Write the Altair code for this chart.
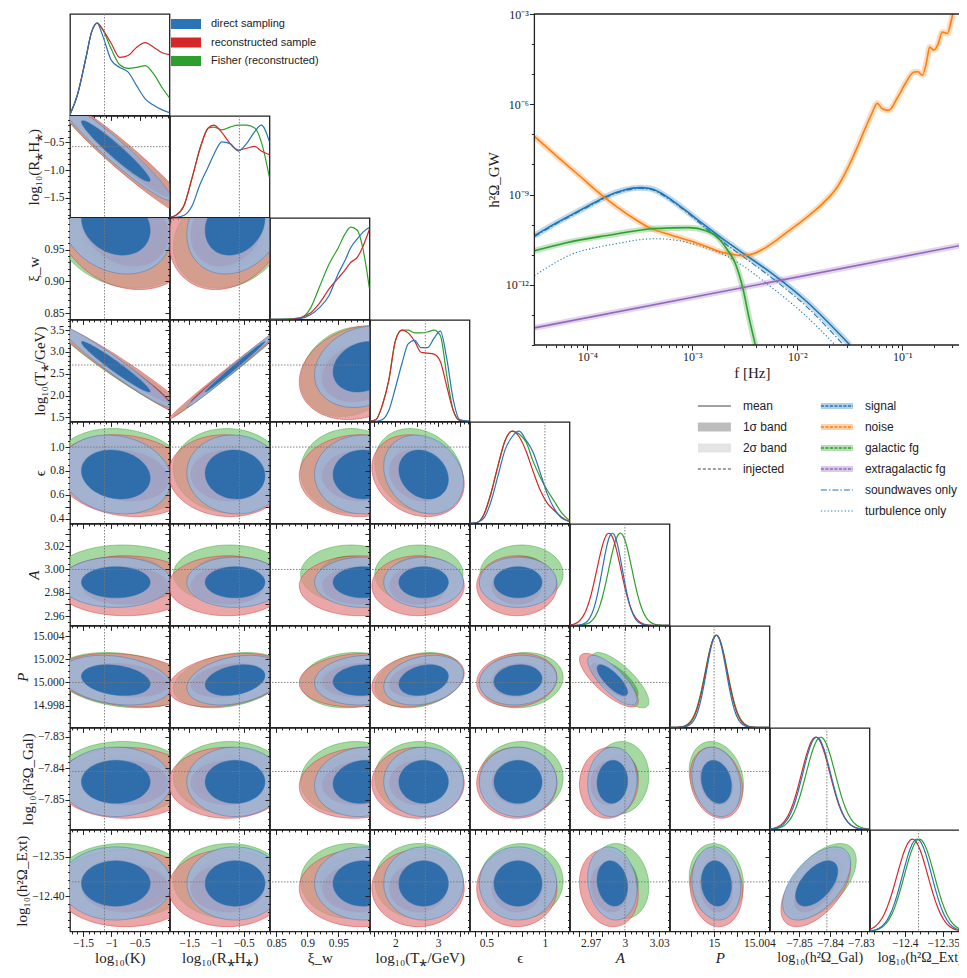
import numpy as np
import pandas as pd
import altair as alt

# ---------------- corner plot: parameters ----------------
AXIS_TITLES = ["log₁₀(K)", "log₁₀(R⁎H⁎)", "ξ_w", "log₁₀(T⁎/GeV)", "ϵ", "A", "P",
               "log₁₀(h²Ω_Gal)", "log₁₀(h²Ω_Ext)"]
DOMAIN_LO = [-1.73, -1.85, 0.84, 1.41, 0.36, 2.952, 14.9961, -7.8594, -12.445]
DOMAIN_HI = [0.03, -0.03, 1.0, 3.73, 1.21, 3.039, 15.0049, -7.8272, -12.316]
INJECTED = [-1.12, -0.58, None, 2.7, 1.0, 3.0, 15.0, -7.841, -12.382]
X_TICK_LABELS = [[-1.5, -1, -0.5], [-1.5, -1, -0.5], [0.85, 0.9, 0.95], [2, 3], [0.5, 1],
                 [2.97, 3, 3.03], [15, 15.004], [-7.85, -7.84, -7.83], [-12.4, -12.35]]
Y_TICK_LABELS = [[], [-1.5, -1, -0.5], [0.85, 0.9, 0.95], [1.5, 2, 2.5, 3, 3.5],
                 [0.4, 0.6, 0.8, 1.0], [2.96, 2.98, 3.0, 3.02], [14.998, 15.0, 15.002, 15.004],
                 [-7.85, -7.84, -7.83], [-12.4, -12.35]]
Y_LABEL_FORMAT = [".1f", ".1f", ".2f", ".1f", ".1f", ".2f", ".3f", ".2f", ".2f"]
MINOR_STEP = [0.1, 0.1, 0.01, 0.1, 0.05, 0.005, 0.0005, 0.002, 0.01]

# summary of each sample (centre, width) per parameter
MEAN_BLUE = [-0.92, -0.66, 0.99, 2.66, 0.77, 2.989, 15.0002, -7.8443, -12.384]
SIG_BLUE = [0.40, 0.36, 0.032, 0.38, 0.135, 0.0088, 0.00088, 0.0045, 0.019]
MEAN_RED = [-0.75, -0.80, 0.985, 2.53, 0.76, 2.986, 15.0002, -7.8446, -12.390]
SIG_RED = [0.50, 0.44, 0.040, 0.44, 0.14, 0.0105, 0.00095, 0.0046, 0.020]
MEAN_GREEN = [-0.80, -0.76, 0.97, 2.55, 0.80, 2.996, 15.0002, -7.8430, -12.381]
SIG_GREEN = [0.48, 0.42, 0.033, 0.42, 0.145, 0.0102, 0.00098, 0.0047, 0.0195]

# correlation of parameter pairs (tilt of the contours)
CORR_PAIRS = [(0, 1, -0.96), (0, 2, -0.2), (0, 3, -0.97), (0, 4, -0.15), (0, 6, -0.25),
              (1, 2, 0.2), (1, 3, 0.995), (1, 4, -0.05), (1, 6, 0.3),
              (2, 3, 0.2), (2, 6, 0.1), (2, 7, 0.1), (3, 4, -0.2), (3, 6, 0.25),
              (4, 6, 0.1), (5, 6, -0.78), (5, 7, 0.05), (5, 8, -0.15),
              (6, 7, -0.2), (6, 8, -0.1), (7, 8, 0.55)]

# 1D marginals
K_GRID = [-1.73, -1.6, -1.45, -1.35, -1.25, -1.15, -1.0, -0.85, -0.7, -0.55, -0.4, -0.25, -0.1, 0.03]
K_BLUE = [0.01, 0.22, 0.62, 0.9, 1.0, 0.86, 0.6, 0.52, 0.47, 0.32, 0.18, 0.11, 0.06, 0.03]
K_RED = [0.01, 0.22, 0.62, 0.9, 1.0, 0.93, 0.78, 0.63, 0.65, 0.74, 0.79, 0.74, 0.68, 0.66]
K_GREEN = [0.01, 0.22, 0.62, 0.9, 1.0, 0.93, 0.72, 0.55, 0.51, 0.52, 0.54, 0.45, 0.3, 0.19]
RH_GRID = [-1.85, -1.75, -1.6, -1.45, -1.3, -1.15, -1.05, -0.9, -0.75, -0.6, -0.45, -0.3, -0.18, -0.03]
RH_BLUE = [0, 0, 0.02, 0.12, 0.36, 0.55, 0.68, 0.82, 0.8, 0.72, 0.8, 0.93, 1.0, 0.82]
RH_RED = [0, 0.02, 0.12, 0.42, 0.75, 0.97, 1.0, 0.92, 0.8, 0.73, 0.75, 0.77, 0.72, 0.68]
RH_GREEN = [0, 0.02, 0.12, 0.42, 0.75, 0.97, 0.98, 0.95, 0.98, 1.0, 1.0, 0.97, 0.82, 0.43]
XI_GRID = [0.84, 0.87, 0.89, 0.905, 0.92, 0.935, 0.95, 0.96, 0.97, 0.98, 0.99, 1.0]
XI_BLUE = [0, 0, 0.01, 0.05, 0.13, 0.26, 0.5, 0.63, 0.78, 0.87, 0.95, 1.0]
XI_RED = [0, 0, 0.02, 0.07, 0.18, 0.33, 0.45, 0.53, 0.62, 0.67, 0.8, 0.98]
XI_GREEN = [0, 0.005, 0.02, 0.12, 0.36, 0.6, 0.78, 0.92, 1.0, 0.97, 0.75, 0.33]
T_GRID = [1.41, 1.55, 1.7, 1.85, 2.0, 2.15, 2.3, 2.45, 2.6, 2.75, 2.9, 3.05, 3.2, 3.35, 3.5, 3.73]
T_BLUE = [0, 0, 0.02, 0.12, 0.36, 0.62, 0.84, 0.88, 0.8, 0.8, 0.9, 0.98, 0.68, 0.24, 0.02, 0]
T_RED = [0, 0.02, 0.18, 0.45, 0.87, 0.99, 0.96, 0.87, 0.75, 0.74, 0.73, 0.65, 0.38, 0.12, 0.01, 0]
T_GREEN = [0, 0.02, 0.18, 0.45, 0.87, 0.99, 0.99, 0.96, 0.96, 0.97, 0.99, 0.93, 0.5, 0.12, 0.01, 0]
EPS_GRID = [0.36, 0.42, 0.48, 0.54, 0.6, 0.66, 0.72, 0.78, 0.84, 0.9, 0.96, 1.02, 1.08, 1.14, 1.21]
EPS_BLUE = [0, 0.01, 0.06, 0.24, 0.52, 0.8, 0.94, 1.0, 0.9, 0.77, 0.55, 0.32, 0.16, 0.06, 0.02]
EPS_RED = [0, 0.01, 0.1, 0.33, 0.63, 0.9, 1.0, 0.94, 0.78, 0.56, 0.36, 0.22, 0.14, 0.07, 0.02]
EPS_GREEN = [0, 0.01, 0.1, 0.33, 0.63, 0.9, 1.0, 0.97, 0.88, 0.67, 0.5, 0.36, 0.24, 0.12, 0.03]

SAMPLE_LABELS = ["direct sampling", "reconstructed sample", "Fisher (reconstructed)"]

# ---------------- inset spectrum (log10 f, log10 h^2 Omega) ----------------
NOISE_LOGF = [-4.51, -4.3, -4.1, -3.86, -3.6, -3.41, -3.2, -3.03, -2.85, -2.71, -2.6, -2.52, -2.42,
              -2.33, -2.2, -2.08, -1.92, -1.76, -1.62, -1.5, -1.42, -1.35, -1.29, -1.24, -1.19, -1.13,
              -1.05, -0.97, -0.89, -0.85, -0.81, -0.77, -0.74, -0.7, -0.66, -0.62, -0.57, -0.54, -0.52]
NOISE_LOGO = [-7.07, -7.7, -8.3, -9.03, -9.7, -10.1, -10.35, -10.53, -10.75, -10.93, -11.0, -11.03, -10.97,
              -10.82, -10.52, -10.2, -9.78, -9.3, -8.75, -7.97, -7.35, -6.77, -6.3, -5.97, -6.15, -6.2,
              -5.8, -5.3, -4.93, -4.92, -5.03, -4.6, -4.1, -4.2, -4.0, -3.6, -3.65, -3.3, -3.0]
SIGNAL_LOGF = [-4.51, -4.3, -4.14, -3.95, -3.83, -3.65, -3.5, -3.4, -3.3, -3.19, -3.0, -2.87, -2.7,
               -2.55, -2.24, -1.92, -1.5]
SIGNAL_LOGO = [-10.37, -9.95, -9.65, -9.3, -9.08, -8.85, -8.77, -8.8, -8.95, -9.2, -9.7, -10.05, -10.5,
               -10.87, -11.63, -12.53, -14.0]
SW_LOGF = [-4.51, -4.3, -4.14, -3.95, -3.83, -3.65, -3.5, -3.4, -3.3, -3.19, -3.0, -2.87, -2.7,
           -2.55, -2.24, -1.92, -1.56]
SW_LOGO = [-10.4, -9.98, -9.68, -9.33, -9.11, -8.88, -8.8, -8.83, -8.98, -9.23, -9.74, -10.12, -10.6,
           -10.98, -11.78, -12.7, -14.0]
TURB_LOGF = [-4.51, -4.3, -4.14, -3.9, -3.67, -3.5, -3.35, -3.1, -2.87, -2.7, -2.55, -2.24, -1.92, -1.64]
TURB_LOGO = [-11.7, -11.25, -10.97, -10.75, -10.6, -10.5, -10.47, -10.55, -10.77, -11.0, -11.3, -12.1,
             -13.03, -14.0]
GAL_LOGF = [-4.51, -4.2, -3.83, -3.35, -3.03, -2.87, -2.76, -2.68, -2.59, -2.52, -2.46, -2.4]
GAL_LOGO = [-10.87, -10.6, -10.37, -10.13, -10.1, -10.2, -10.42, -10.77, -11.3, -12.1, -13.1, -14.0]
EXT_LOGF = [-4.51, -0.37]
EXT_LOGO = [-13.43, -10.64]

LEG_LEFT = ["mean", "1σ band", "2σ band", "injected"]
LEG_RIGHT = ["signal", "noise", "galactic fg", "extragalactic fg", "soundwaves only", "turbulence only"]

# ---------------- styling / layout ----------------
W, H = 99.5, 101.4
INSET_W, INSET_H = 435, 331
INSET_X0 = 64.4          # inset frame starts this far right of its grid cell (column 4)
LEG_X0 = 127.9           # legend symbols start this far right of their grid cell (column 5)
SERIF = "Liberation Serif"
SANS = "Liberation Sans"
C_BLUE, C_RED, C_GREEN = "#2a74b5", "#d62728", "#2ca02c"
C_ORANGE, C_PURPLE = "#ff7f0e", "#9467bd"
SAMPLES = ["green", "red", "blue"]
LINE_COL = {"blue": C_BLUE, "red": C_RED, "green": C_GREEN}
FILL = {("green", "2"): ("#8fd08a", 0.80), ("green", "1"): ("#3aa63a", 0.6),
        ("red", "2"): ("#e48a8a", 0.75), ("red", "1"): ("#d22f2f", 0.85),
        ("blue", "2"): ("#9ab5db", 0.85), ("blue", "1"): ("#2a6aaa", 0.95)}
R1, R2 = 1.52, 2.45

MEANS = {"blue": MEAN_BLUE, "red": MEAN_RED, "green": MEAN_GREEN}
SIGMAS = {"blue": SIG_BLUE, "red": SIG_RED, "green": SIG_GREEN}
CORR = {(a, b): r for a, b, r in CORR_PAIRS}
DIAG = {0: (K_GRID, K_BLUE, K_RED, K_GREEN), 1: (RH_GRID, RH_BLUE, RH_RED, RH_GREEN),
        2: (XI_GRID, XI_BLUE, XI_RED, XI_GREEN), 3: (T_GRID, T_BLUE, T_RED, T_GREEN),
        4: (EPS_GRID, EPS_BLUE, EPS_RED, EPS_GREEN)}
NOBOX = alt.ViewBackground(stroke="transparent")


def js(vals):
    return "[" + ",".join(repr(float(v)) for v in vals) + "]"


def tick_values(j):
    lo, hi, st = DOMAIN_LO[j], DOMAIN_HI[j], MINOR_STEP[j]
    k0 = int(np.ceil(lo / st - 1e-6))
    k1 = int(np.floor(hi / st + 1e-6))
    vals = {round(k * st, 7) for k in range(k0, k1 + 1)}
    majors = {round(float(v), 7) for v in X_TICK_LABELS[j] + Y_TICK_LABELS[j]}
    vals |= majors
    vals = sorted(v for v in vals if lo <= v <= hi)
    return vals, sorted(majors)


def make_axis(j, labels, title, fmt, label_vals, italic=False, title_size=15):
    vals, majors = tick_values(j)
    kw = dict(values=vals,
              tickSize={"condition": {"test": f"indexof({js(majors)}, datum.value) >= 0", "value": 5},
                        "value": 2.5})
    if labels:
        lv = [round(float(v), 7) for v in label_vals]
        kw["labelExpr"] = f"indexof({js(lv)}, datum.value) >= 0 ? format(datum.value, '{fmt}') : ''"
        kw["labelOverlap"] = False
        kw["labelFlush"] = False
        kw["title"] = title
        kw["titleFontSize"] = title_size
        if italic:
            kw["titleFontStyle"] = "italic"
    else:
        kw["labels"] = False
        kw["title"] = None
    return alt.Axis(**kw)


def x_title_size(j):
    return 14 if j >= 7 else 15


def sc(j):
    return alt.Scale(domain=[DOMAIN_LO[j], DOMAIN_HI[j]], nice=False, zero=False)


def ellipse(mx, my, sx, sy, rho, r, n=40):
    t = np.linspace(0.0, np.pi, n)
    u = -np.cos(t)
    x = mx + r * sx * u
    mid = my + rho * sy * r * u
    half = sy * np.sqrt(max(1 - rho ** 2, 0.0)) * r * np.sqrt(np.clip(1 - u ** 2, 0, None))
    return x, mid - half, mid + half


def contour_frame(i, j):
    rho = CORR.get((min(i, j), max(i, j)), 0.0)
    parts = []
    for s in SAMPLES:
        for lev, r in (("2", R2), ("1", R1)):
            x, lo, hi = ellipse(MEANS[s][j], MEANS[s][i], SIGMAS[s][j], SIGMAS[s][i], rho, r)
            parts.append(pd.DataFrame({"key": s + lev, "x": x, "y": lo, "y2": hi}))
    return pd.concat(parts, ignore_index=True)


def diag_frame(i):
    parts = []
    if i in DIAG:
        grid, b, r, g = DIAG[i]
        for s, vals in (("green", g), ("red", r), ("blue", b)):
            parts.append(pd.DataFrame({"s": s, "x": grid, "y": vals}))
    else:
        xs = np.linspace(DOMAIN_LO[i], DOMAIN_HI[i], 90)
        for s in SAMPLES:
            m, sg = MEANS[s][i], SIGMAS[s][i]
            parts.append(pd.DataFrame({"s": s, "x": xs, "y": np.exp(-0.5 * ((xs - m) / sg) ** 2)}))
    return pd.concat(parts, ignore_index=True)


def inj_rule(v, channel, scale, axis):
    base = alt.Chart(pd.DataFrame({"v": [v]})).mark_rule(color="#777", strokeWidth=0.9,
                                                         strokeDash=[1.5, 1.5])
    if channel == "x":
        return base.encode(x=alt.X("v:Q", scale=scale, axis=axis))
    return base.encode(y=alt.Y("v:Q", scale=scale, axis=axis))


def offdiag(i, j):
    df = contour_frame(i, j)
    xa = make_axis(j, i == 8, AXIS_TITLES[j], "~g", X_TICK_LABELS[j], italic=j in (5, 6),
                   title_size=x_title_size(j))
    ya = make_axis(i, j == 0, AXIS_TITLES[i], Y_LABEL_FORMAT[i], Y_TICK_LABELS[i], italic=i in (5, 6))
    xs, ys = sc(j), sc(i)
    base = alt.Chart(df)
    layers = []
    for s in SAMPLES:
        for lev in ("2", "1"):
            col, op = FILL[(s, lev)]
            layers.append(
                base.transform_filter(alt.datum.key == s + lev)
                .mark_area(clip=True, fill=col, fillOpacity=op, stroke=LINE_COL[s],
                           strokeWidth=0.7, strokeOpacity=0.6)
                .encode(x=alt.X("x:Q", scale=xs, axis=xa),
                        y=alt.Y("y:Q", scale=ys, axis=ya, stack=None),
                        y2="y2:Q"))
    if INJECTED[j] is not None:
        layers.append(inj_rule(INJECTED[j], "x", xs, xa))
    if INJECTED[i] is not None:
        layers.append(inj_rule(INJECTED[i], "y", ys, ya))
    return alt.layer(*layers).properties(width=W, height=H)


def diag(i):
    df = diag_frame(i)
    xa = make_axis(i, i == 8, AXIS_TITLES[i], "~g", X_TICK_LABELS[i], italic=i in (5, 6),
                   title_size=x_title_size(i))
    xs = sc(i)
    ys = alt.Scale(domain=[0, 1.1], nice=False)
    base = alt.Chart(df)
    layers = []
    for s in SAMPLES:
        layers.append(base.transform_filter(alt.datum.s == s)
                      .mark_line(clip=True, color=LINE_COL[s], strokeWidth=1.2, interpolate="monotone")
                      .encode(x=alt.X("x:Q", scale=xs, axis=xa), y=alt.Y("y:Q", scale=ys, axis=None)))
    if INJECTED[i] is not None:
        layers.append(inj_rule(INJECTED[i], "x", xs, xa))
    return alt.layer(*layers).properties(width=W, height=H)


BLANK_DF = pd.DataFrame({"a": [0]})


def blank():
    return alt.Chart(BLANK_DF).mark_point(opacity=0, size=0).encode(
        x=alt.X("a:Q", axis=None), y=alt.Y("a:Q", axis=None)
    ).properties(width=W, height=H, view=NOBOX)


# top-left legend of the corner plot
top_leg_df = pd.DataFrame({"label": SAMPLE_LABELS, "row": [0, 1, 2]})
ty = alt.Y("row:Q", scale=alt.Scale(domain=[0, 2], range=[10, 47]), axis=None)
top_layers = []
for lab, col in zip(SAMPLE_LABELS, [C_BLUE, C_RED, C_GREEN]):
    top_layers.append(alt.Chart(top_leg_df).transform_filter(alt.datum.label == lab)
                      .mark_rule(color=col, strokeWidth=10)
                      .encode(x=alt.value(1), x2=alt.value(31), y=ty))
top_layers.append(alt.Chart(top_leg_df).mark_text(align="left", baseline="middle", font=SANS,
                                                   fontSize=11, color="#222")
                  .encode(x=alt.value(41), y=ty, text="label:N"))
top_legend = alt.layer(*top_layers).properties(width=W, height=H, view=NOBOX)

# ---------------- inset ----------------
def comp_df(name, lf, lo):
    return pd.DataFrame({"comp": name, "f": 10.0 ** np.array(lf), "o": 10.0 ** np.array(lo)})


inset_parts = {"signal": comp_df("signal", SIGNAL_LOGF, SIGNAL_LOGO),
               "noise": comp_df("noise", NOISE_LOGF, NOISE_LOGO),
               "galactic fg": comp_df("galactic fg", GAL_LOGF, GAL_LOGO),
               "extragalactic fg": comp_df("extragalactic fg", EXT_LOGF, EXT_LOGO)}
sw_df = comp_df("soundwaves only", SW_LOGF, SW_LOGO)
turb_df = comp_df("turbulence only", TURB_LOGF, TURB_LOGO)
COMP_COL = {"signal": "#1f77b4", "noise": C_ORANGE, "galactic fg": C_GREEN, "extragalactic fg": C_PURPLE}

DEC_PX = 105.0
XLO = 10 ** -4.5045
XHI = 10 ** (-4.5045 + INSET_W / DEC_PX)
x_ticks = []
for n in range(-5, 0):
    for k in range(1, 10):
        v = float(f"{k}e{n}")
        if XLO <= v <= XHI:
            x_ticks.append(v)
x_dec = [1e-4, 1e-3, 1e-2, 1e-1]
x_lab = ("datum.value == 0.0001 ? '10⁻⁴' : datum.value == 0.001 ? '10⁻³' : "
         "datum.value == 0.01 ? '10⁻²' : datum.value == 0.1 ? '10⁻¹' : ''")
y_ticks = [float(f"1e{e}") for e in range(-14, -2)]
y_lab = ("datum.value == 0.001 ? '10⁻³' : datum.value == 1e-06 ? '10⁻⁶' : "
         "datum.value == 1e-09 ? '10⁻⁹' : datum.value == 1e-12 ? '10⁻¹²' : ''")
ix_axis = alt.Axis(values=x_ticks, labelExpr=x_lab, labelOverlap=False, labelFlush=False,
                   tickSize={"condition": {"test": f"indexof({js(x_dec)}, datum.value) >= 0", "value": 5},
                             "value": 2.5},
                   offset=INSET_H - H,
                   title="f [Hz]", labelFontSize=12, titlePadding=3)
iy_axis = alt.Axis(values=y_ticks, labelExpr=y_lab, labelOverlap=False, labelFlush=False,
                   tickSize={"condition": {"test": f"indexof({js([1e-3, 1e-6, 1e-9, 1e-12])}, datum.value) >= 0",
                                           "value": 5}, "value": 3},
                   offset=-INSET_X0,
                   title="h²Ω_GW", labelFontSize=12, titlePadding=4)
ixs = alt.Scale(type="log", domain=[XLO, XHI], nice=False, clamp=True, range=[INSET_X0, INSET_X0 + INSET_W])
iys = alt.Scale(type="log", domain=[1e-14, 1e-3], nice=False, clamp=True, range=[INSET_H, 0])


def ienc(ch):
    return ch.encode(x=alt.X("f:Q", scale=ixs, axis=ix_axis), y=alt.Y("o:Q", scale=iys, axis=iy_axis))


inset_layers = []
for name, d in inset_parts.items():
    inset_layers.append(ienc(alt.Chart(d).mark_line(color=COMP_COL[name], strokeWidth=6,
                                                     opacity=0.28, interpolate="monotone")))
inset_layers.append(ienc(alt.Chart(turb_df).mark_line(color="#1f77b4", strokeWidth=1.1,
                                                       strokeDash=[1.2, 2.2], interpolate="monotone")))
inset_layers.append(ienc(alt.Chart(sw_df).mark_line(color="#1f77b4", strokeWidth=1.1,
                                                     strokeDash=[6, 2, 1.5, 2], interpolate="monotone")))
for name, d in inset_parts.items():
    inset_layers.append(ienc(alt.Chart(d).mark_line(color=COMP_COL[name], strokeWidth=1.6,
                                                     interpolate="monotone")))
frame_df = pd.DataFrame({"f": [XLO], "f2": [XHI], "o": [1e-14], "o2": [1e-3]})
inset_layers.append(alt.Chart(frame_df).mark_rect(filled=False, stroke="#222", strokeWidth=1.3).encode(
    x=alt.X("f:Q", scale=ixs, axis=ix_axis), x2="f2:Q",
    y=alt.Y("o:Q", scale=iys, axis=iy_axis), y2="o2:Q"))
inset = alt.layer(*inset_layers).properties(width=W, height=H, view=NOBOX)

# inset legend (grid cell row 4 / column 5; rows drawn from 16 px above that row)
lleft = pd.DataFrame({"label": LEG_LEFT, "row": list(range(len(LEG_LEFT)))})
lright = pd.DataFrame({"label": LEG_RIGHT, "row": list(range(len(LEG_RIGHT)))})
ly = alt.Y("row:Q", scale=alt.Scale(domain=[0, 5], range=[-16, 89]), axis=None)
leg_layers = []
left_sym = [("mean", "#444", 1.1, None), ("1σ band", "#bdbdbd", 9, None),
            ("2σ band", "#e4e4e4", 9, None), ("injected", "#444", 1.1, [3, 2])]
XL0, XL1, XLT = LEG_X0, LEG_X0 + 33, LEG_X0 + 45
XR0, XR1, XRT = LEG_X0 + 123, LEG_X0 + 155, LEG_X0 + 167
for lab, col, wdt, dash in left_sym:
    kw = dict(color=col, strokeWidth=wdt)
    if dash:
        kw["strokeDash"] = dash
    leg_layers.append(alt.Chart(lleft).transform_filter(alt.datum.label == lab).mark_rule(**kw)
                      .encode(x=alt.value(XL0), x2=alt.value(XL1), y=ly))
for lab in ["signal", "noise", "galactic fg", "extragalactic fg"]:
    c = COMP_COL[lab]
    leg_layers.append(alt.Chart(lright).transform_filter(alt.datum.label == lab)
                      .mark_rule(color=c, strokeWidth=6, opacity=0.35)
                      .encode(x=alt.value(XR0), x2=alt.value(XR1), y=ly))
    leg_layers.append(alt.Chart(lright).transform_filter(alt.datum.label == lab)
                      .mark_rule(color=c, strokeWidth=1.3, strokeDash=[3, 1.5])
                      .encode(x=alt.value(XR0), x2=alt.value(XR1), y=ly))
leg_layers.append(alt.Chart(lright).transform_filter(alt.datum.label == "soundwaves only")
                  .mark_rule(color="#1f77b4", strokeWidth=1.1, strokeDash=[6, 2, 1.5, 2])
                  .encode(x=alt.value(XR0), x2=alt.value(XR1), y=ly))
leg_layers.append(alt.Chart(lright).transform_filter(alt.datum.label == "turbulence only")
                  .mark_rule(color="#1f77b4", strokeWidth=1.1, strokeDash=[1.2, 2.2])
                  .encode(x=alt.value(XR0), x2=alt.value(XR1), y=ly))
leg_layers.append(alt.Chart(lleft).mark_text(align="left", baseline="middle", font=SANS, fontSize=12,
                                              color="#222")
                  .encode(x=alt.value(XLT), y=ly, text="label:N"))
leg_layers.append(alt.Chart(lright).mark_text(align="left", baseline="middle", font=SANS, fontSize=12,
                                               color="#222")
                  .encode(x=alt.value(XRT), y=ly, text="label:N"))
inset_legend = alt.layer(*leg_layers).properties(width=W, height=H, view=NOBOX)

# ---------------- assemble: 9x9 grid ----------------
cells = []
for r in range(9):
    for c in range(9):
        if c < r:
            cells.append(offdiag(r, c))
        elif c == r:
            cells.append(diag(r))
        elif r == 0 and c == 1:
            cells.append(top_legend)
        elif r == 0 and c == 4:
            cells.append(inset)
        elif r == 4 and c == 5:
            cells.append(inset_legend)
        else:
            cells.append(blank())

chart = alt.concat(*cells, columns=9, spacing=0, bounds="flush",
                   padding={"left": 5, "top": -7, "right": -23, "bottom": 0}).configure_view(
    stroke="#222", strokeWidth=1.3
).configure_axis(
    labelFont=SERIF, labelFontSize=11.5, titleFont=SERIF, titleFontSize=15, titleFontWeight="normal",
    tickColor="#222", labelColor="#222", titleColor="#222", domain=False, grid=False,
    labelPadding=1, titlePadding=2
)

chart.save("out.html", embed_options={"renderer": "svg", "actions": False})
